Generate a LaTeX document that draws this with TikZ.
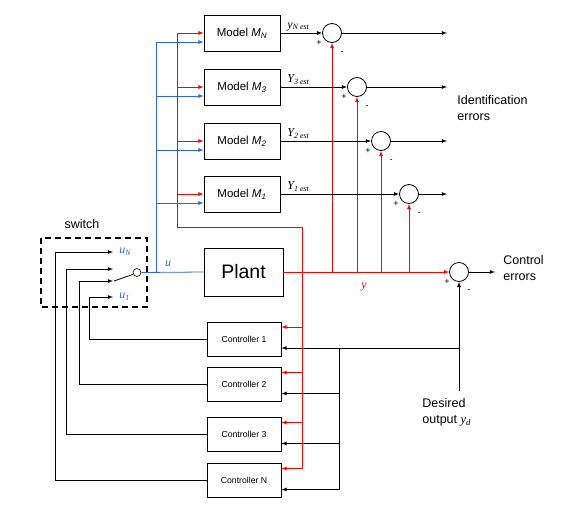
\documentclass[tikz,border=0pt]{standalone}
\usepackage{fontspec}
\setmainfont{Liberation Sans}
\newfontfamily\timesfont{Liberation Serif}
\usetikzlibrary{calc}

\definecolor{sigred}{RGB}{255,0,0}
\definecolor{sigblue}{RGB}{45,100,235}
\newcommand\estlbl[2]{{\timesfont\itshape #1\textsubscript{#2 est}}}

\begin{document}
\begin{tikzpicture}[x=1pt,y=-1pt,line width=0.8pt,>=latex,
  model/.style={draw,rectangle,minimum width=76pt,minimum height=36pt,inner sep=0pt,font=\fontsize{11.5}{13}\selectfont},
  ctrl/.style={draw,rectangle,minimum width=74pt,minimum height=34pt,inner sep=0pt,font=\fontsize{8.7}{10}\selectfont},
  sum/.style={draw,circle,minimum size=19pt,inner sep=0pt},
  pm/.style={inner sep=0pt,font=\fontsize{9}{10}\selectfont},
  lbl/.style={inner sep=0pt,align=left,font=\fontsize{12.5}{16}\selectfont},
  est/.style={inner sep=0pt,font=\fontsize{12}{13}\selectfont}]
\useasboundingbox (0,0) rectangle (575,513);

% models and identification errors
\foreach \k/\yy/\sx/\ylab in {N/33/332/y,3/87/357/Y,2/141/381/Y,1/194/409/Y}{
  \node[model] (m\k) at (242,\yy) {Model \textit{M}\textsubscript{\textit{\k}}};
  \node[sum] (s\k) at (\sx,\yy) {};
  \node[pm] (p\k) at (\sx-13,\yy+10) {+};
  \node[pm] (n\k) at (\sx+10,\yy+20) {-};
  \node[est,anchor=south west] (e\k) at (287,\yy-2) {\estlbl{\ylab}{\k}};
  \coordinate (o\k) at (447,\yy);
  \coordinate (t\k) at (\sx,272);
  \coordinate (r\k) at (177,\yy);
  \coordinate (b\k) at (156,\yy+9);
  \draw[->] (m\k) -- (s\k);
  \draw[->] (s\k) -- (o\k);
  \draw[->,sigred] (t\k) -- (s\k);
  \draw[->,sigred] (r\k) -- (m\k.west |- r\k);
  \draw[->,sigblue] (b\k) -- (m\k.west |- b\k);
}
\node[lbl,anchor=west] (ide) at (457,108) {Identification\\errors};

% plant and control error
\node[draw,rectangle,minimum width=79pt,minimum height=48pt,font=\fontsize{19.5}{22}\selectfont] (plant) at (243.5,272) {Plant};
\node[sum] (sc) at (459,272) {};
\node[pm] (pc) at (447,282) {+};
\node[pm] (nc) at (469,291) {-};
\coordinate (oc) at (495,272);
\draw[->,sigred] (plant.east) -- (sc.west);
\draw[->] (sc) -- (oc);
\node[lbl,anchor=west] (cte) at (503,268) {Control\\errors};
\node[est,text=sigred] (ylab) at (364,287) {\timesfont\itshape y};

% switch
\draw[dashed,line width=1.6pt,dash pattern=on 6pt off 4pt] (41,238) rectangle (147,307);
\node[lbl] (swl) at (82,224) {switch};
\node[draw,circle,minimum size=8pt,inner sep=0pt,line width=0.6pt] (sw) at (137,272.5) {};
\coordinate (lv) at (114,281);
\draw (lv) -- (sw.205);
\draw[sigblue] (sw.east) -- (plant.west);
\coordinate (bu) at (156,272);
\draw[sigblue] (bN) -- (bu);
\node[est,text=sigblue,anchor=west] (uN) at (119,252) {\timesfont\itshape u\textsubscript{N}};
\node[est,text=sigblue,anchor=west] (u1) at (119,297) {\timesfont\itshape u\textsubscript{1}};
\node[est,text=sigblue] (ul) at (168,264) {\timesfont\itshape u};

% controllers
\coordinate (yd) at (459,391);
\foreach \k/\yy/\lx/\sy in {1/339/89/297,2/384.5/79/281,3/434.5/66/269,N/480.5/55/252}{
  \node[ctrl] (c\k) at (244,\yy) {Controller \k};
  \coordinate (k\k) at (\lx,\sy);
  \coordinate (i\k) at (113,\sy);
  \coordinate (rc\k) at (302,\yy-12);
  \coordinate (dc\k) at (339,\yy+9);
  \draw[->] (c\k.west) -| (k\k) -- (i\k);
  \draw[->,sigred] (rc\k) -- (c\k.east |- rc\k);
  \draw[->] (dc\k) -- (c\k.east |- dc\k);
}
\draw[sigred] (rcN) -- (302,227) -| (rN);
\draw (dc1) -- (dcN);
\draw (dc1) -- (dc1 -| yd);
\draw[->] (yd) -- (sc.south);
\node[lbl,anchor=west] (des) at (422,412) {Desired\\output {\timesfont\itshape y\textsubscript{d}}};
\end{tikzpicture}
\end{document}
